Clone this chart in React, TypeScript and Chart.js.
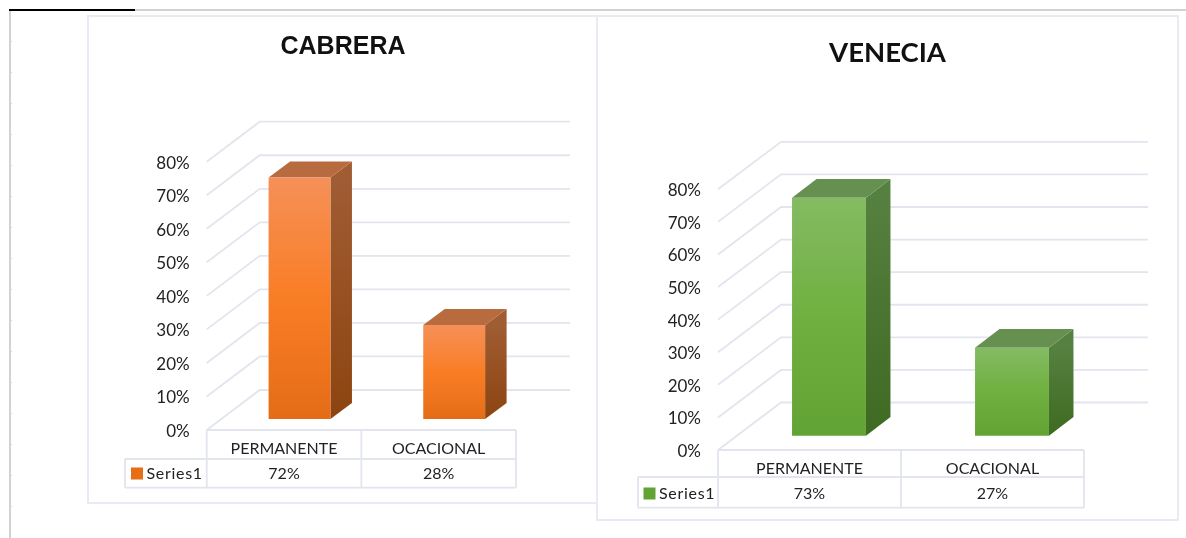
import React, { useEffect, useRef } from "react";
import { Chart, registerables } from "chart.js";

Chart.register(...registerables);

const categories = ["PERMANENTE", "OCACIONAL"];
const cabreraValues = [0.72, 0.28];
const veneciaValues = [0.73, 0.27];
const seriesName = "Series1";
const axisMax = 0.8;
const axisStep = 0.1;

const FONT = "Lato, Carlito, Calibri, sans-serif";
const TEXT = "#222222";
const LINE = "#e2e5ee";

const ORANGE = {
  front: ["#f59058", "#f97d25", "#e56c17"],
  side: ["#a05c33", "#8c4410"],
  top: "#b96b40",
  swatch: "#e76e17",
};
const GREEN = {
  front: ["#84bb63", "#70b040", "#62a335"],
  side: ["#55803f", "#3e6a21"],
  top: "#659050",
  swatch: "#62a434",
};

const pct = (v: number) => `${Math.round(v * 100)}%`;

const cube3d = {
  id: "cube3d",
  beforeDatasetsDraw(chart: any, _a: any, o: any) {
    const { ctx, chartArea: ca, scales } = chart;
    const y = scales.y;
    ctx.save();
    ctx.strokeStyle = LINE;
    ctx.lineWidth = 1.8;
    y.ticks.forEach((t: any) => {
      const p = y.getPixelForValue(t.value);
      ctx.beginPath();
      ctx.moveTo(ca.left, p);
      ctx.lineTo(ca.left + o.wallDx, p - o.wallDy);
      ctx.lineTo(ca.right + o.wallDx + 1, p - o.wallDy);
      ctx.stroke();
    });
    ctx.restore();

    ctx.save();
    ctx.translate(o.barDx, -o.barDy);
    chart.getDatasetMeta(0).data.forEach((bar: any) => {
      const l = bar.x - bar.width / 2;
      const r = bar.x + bar.width / 2;
      const t = bar.y;
      const b = bar.base;
      const g = ctx.createLinearGradient(0, t, 0, b);
      g.addColorStop(0, o.colors.side[0]);
      g.addColorStop(1, o.colors.side[1]);
      ctx.fillStyle = g;
      ctx.beginPath();
      ctx.moveTo(r, t);
      ctx.lineTo(r + o.cubeDx, t - o.cubeDy);
      ctx.lineTo(r + o.cubeDx, b - o.cubeDy);
      ctx.lineTo(r, b);
      ctx.closePath();
      ctx.fill();
      ctx.fillStyle = o.colors.top;
      ctx.beginPath();
      ctx.moveTo(l, t);
      ctx.lineTo(l + o.cubeDx, t - o.cubeDy);
      ctx.lineTo(r + o.cubeDx, t - o.cubeDy);
      ctx.lineTo(r, t);
      ctx.closePath();
      ctx.fill();
    });
  },
  afterDatasetsDraw(chart: any, _a: any, o: any) {
    chart.ctx.restore();
    const { ctx, chartArea: ca, scales, data } = chart;
    const x0 = ca.left - o.keyWidth;
    const mid = (ca.left + ca.right) / 2;
    const r1 = ca.bottom + o.row1;
    const r2 = ca.bottom + o.row2;
    ctx.save();
    ctx.strokeStyle = LINE;
    ctx.lineWidth = 1.8;
    ctx.beginPath();
    ctx.moveTo(ca.left, ca.bottom);
    ctx.lineTo(ca.right, ca.bottom);
    ctx.moveTo(x0, r1);
    ctx.lineTo(ca.right, r1);
    ctx.moveTo(x0, r2);
    ctx.lineTo(ca.right, r2);
    ctx.moveTo(x0, r1);
    ctx.lineTo(x0, r2);
    [ca.left, mid, ca.right].forEach((x: number) => {
      ctx.moveTo(x, ca.bottom);
      ctx.lineTo(x, r2);
    });
    ctx.stroke();

    ctx.fillStyle = o.colors.swatch;
    ctx.fillRect(x0 + o.swatchX, ca.bottom + 37.5, 12, 12);
    ctx.fillStyle = TEXT;
    ctx.font = `16px ${FONT}`;
    ctx.textBaseline = "middle";
    ctx.textAlign = "left";
    (ctx as any).letterSpacing = "0.7px";
    ctx.fillText(data.datasets[0].label, x0 + o.swatchX + 15.5, ca.bottom + 44);
    (ctx as any).letterSpacing = "0px";
    ctx.textAlign = "center";
    data.datasets[0].data.forEach((v: number, i: number) => {
      ctx.fillText(pct(v), scales.x.getPixelForValue(i) + o.valueShift, ca.bottom + 44);
    });
    ctx.restore();
  },
};

function Panel(props: any) {
  const ref = useRef<HTMLCanvasElement>(null);
  const { title, values, colors, geo, titleFont, titleColor } = props;
  useEffect(() => {
    if (!ref.current) return;
    const frontFill = (c: any) => {
      const chart = c.chart;
      const y = chart.scales?.y;
      const v = c.raw;
      if (!y || typeof v !== "number") return colors.front[1];
      const t = y.getPixelForValue(v);
      const b = y.getPixelForValue(0);
      if (!isFinite(t) || !isFinite(b) || t === b) return colors.front[1];
      const g = chart.ctx.createLinearGradient(0, t, 0, b);
      g.addColorStop(0, colors.front[0]);
      g.addColorStop(0.5, colors.front[1]);
      g.addColorStop(1, colors.front[2]);
      return g;
    };
    const chart = new Chart(ref.current, {
      type: "bar",
      data: {
        labels: categories,
        datasets: [
          {
            label: seriesName,
            data: values,
            backgroundColor: frontFill,
            barPercentage: geo.barPct,
            categoryPercentage: 1,
            clip: false,
            yAxisID: "y",
          },
        ],
      },
      plugins: [cube3d],
      options: {
        responsive: false,
        animation: false,
        layout: { padding: 0 },
        plugins: {
          legend: { display: false },
          tooltip: { enabled: false },
          title: {
            display: true,
            text: title,
            font: titleFont,
            color: titleColor,
            padding: { top: geo.titleTop, bottom: geo.titleBottom },
          },
          cube3d: { ...geo.cube, colors },
        },
        scales: {
          x: {
            grid: { display: false, drawTicks: false },
            border: { display: false },
            ticks: { color: TEXT, font: { family: FONT, size: 16 }, padding: 9, maxRotation: 0, autoSkip: false },
            afterFit: (s: any) => {
              s.height = geo.axisHeight;
            },
          },
          y: {
            min: 0,
            max: axisMax,
            grid: { display: false, drawTicks: false },
            border: { display: false },
            ticks: {
              stepSize: axisStep,
              color: TEXT,
              font: { family: FONT, size: 17 },
              padding: 17,
              labelOffset: 1.5,
              callback: (v: any) => pct(Number(v)),
            },
            afterFit: (s: any) => {
              s.width = geo.axisWidth;
            },
          },
          spacer: {
            type: "linear",
            position: "right",
            grid: { display: false, drawTicks: false },
            border: { display: false },
            ticks: { display: false },
            afterFit: (s: any) => {
              s.width = geo.padRight;
            },
          },
        },
      },
    } as any);
    return () => chart.destroy();
  }, []);
  return (
    <div
      style={{
        position: "absolute",
        left: geo.left,
        top: geo.top,
        width: geo.width,
        height: geo.height,
        background: "#fff",
        border: `2px solid #e8ebf3`,
        boxSizing: "border-box",
      }}
    >
      <canvas
        ref={ref}
        width={geo.width}
        height={geo.height}
        style={{ position: "absolute", left: -2, top: -2, width: geo.width, height: geo.height }}
      />
    </div>
  );
}

const cabreraGeo = {
  left: 87,
  top: 15,
  width: 512,
  height: 489,
  padRight: 83,
  titleTop: 17,
  titleBottom: 99.7,
  axisHeight: 74,
  axisWidth: 119.7,
  barPct: 0.4,
  cube: {
    wallDx: 53,
    wallDy: 40,
    barDx: 15.5,
    barDy: 11,
    cubeDx: 21.5,
    cubeDy: 16,
    keyWidth: 81.7,
    row1: 29,
    row2: 57.7,
    swatchX: 6,
    valueShift: 0,
  },
};
const veneciaGeo = {
  left: 596,
  top: 15,
  width: 583,
  height: 506,
  padRight: 95,
  titleTop: 22,
  titleBottom: 119.3,
  axisHeight: 71,
  axisWidth: 122,
  barPct: 0.404,
  cube: {
    wallDx: 63,
    wallDy: 47.5,
    barDx: 19.5,
    barDy: 14.3,
    cubeDx: 24.5,
    cubeDy: 18.7,
    keyWidth: 80,
    row1: 27,
    row2: 57.7,
    swatchX: 5.5,
    valueShift: 0,
  },
};

export default function App() {
  const tick = "#d6d6d6";
  return (
    <div
      style={{
        position: "fixed",
        left: 0,
        top: 0,
        width: 1186,
        height: 538,
        background: "#fff",
        overflow: "hidden",
        filter: "blur(0.4px)",
      }}
    >
      <div style={{ position: "absolute", left: 9, top: 9, width: 1177, height: 2, background: "#d2d2d2" }} />
      <div style={{ position: "absolute", left: 9, top: 9, width: 126, height: 2, background: "#000" }} />
      <div style={{ position: "absolute", left: 9, top: 11, width: 2, height: 527, background: "#d2d2d2" }} />
      <div
        style={{
          position: "absolute",
          left: 11,
          top: 41,
          width: 1,
          height: 480,
          background: `repeating-linear-gradient(to bottom, ${tick} 0, ${tick} 1px, transparent 1px, transparent 31px)`,
        }}
      />
      <Panel
        title="CABRERA"
        values={cabreraValues}
        colors={ORANGE}
        geo={cabreraGeo}
        titleFont={{ family: "'Liberation Sans', Arial, sans-serif", size: 25, weight: "bold" }}
        titleColor="#111"
      />
      <Panel
        title="VENECIA"
        values={veneciaValues}
        colors={GREEN}
        geo={veneciaGeo}
        titleFont={{ family: FONT, size: 27.5, weight: "bold" }}
        titleColor="#111"
      />
    </div>
  );
}
